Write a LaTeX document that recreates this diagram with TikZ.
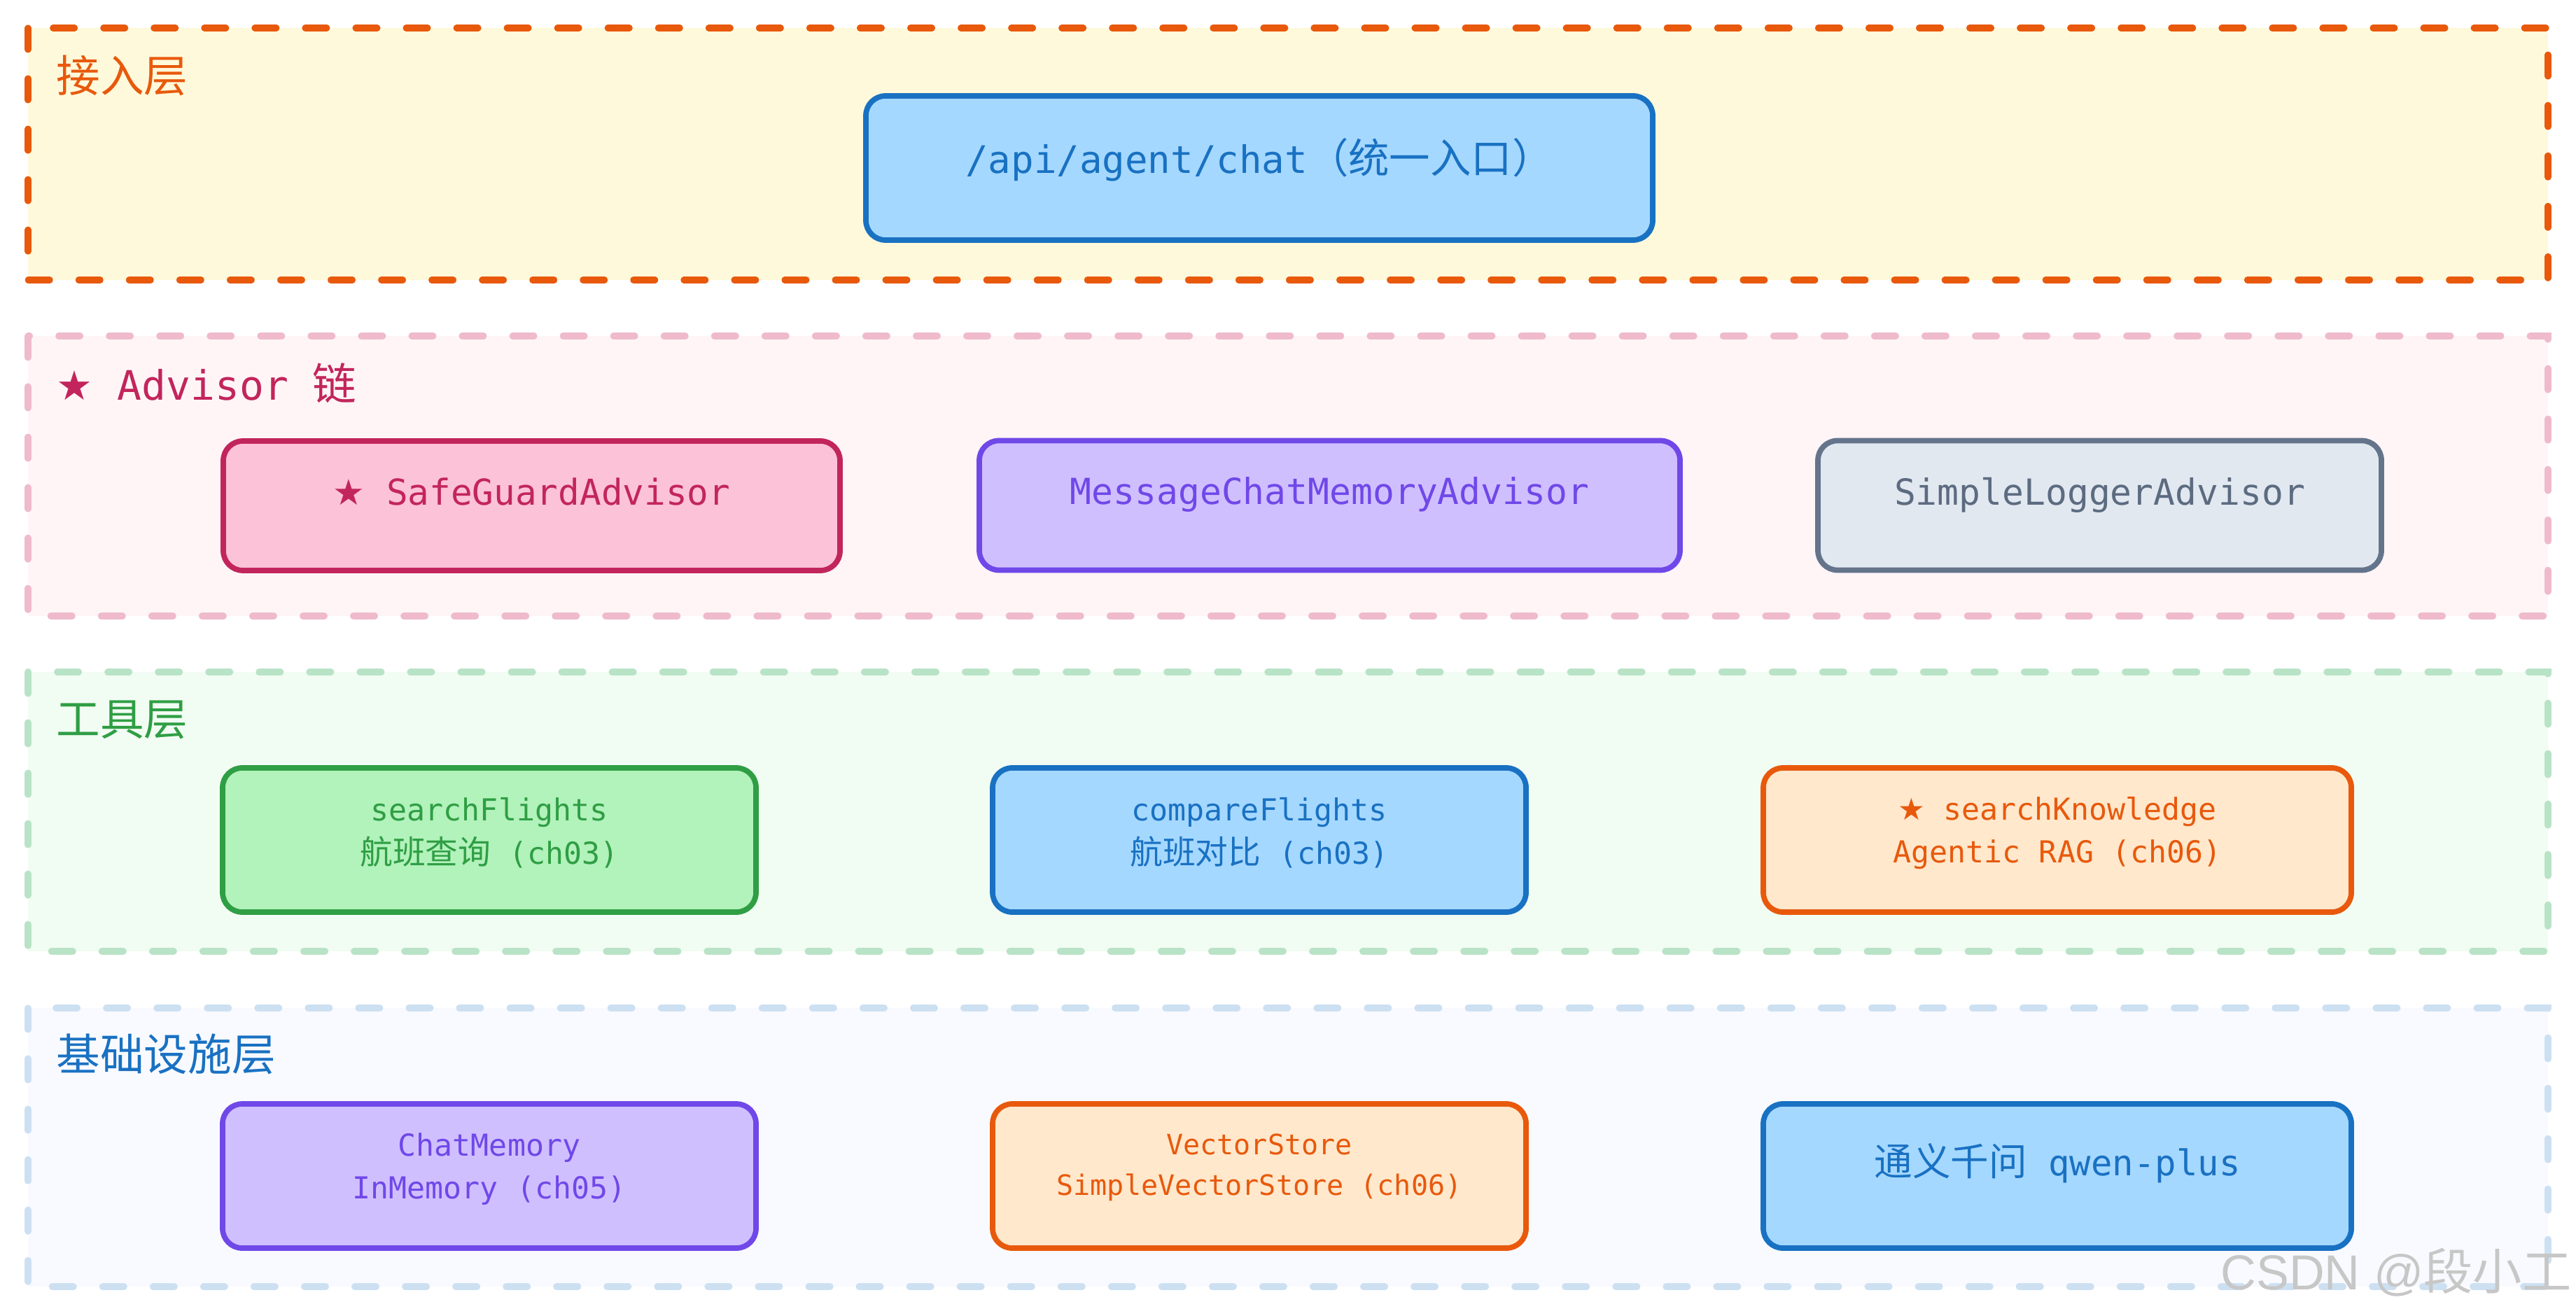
\documentclass[tikz,border=0pt]{standalone}
\usepackage{fontspec}
\setmonofont{DejaVu Sans Mono}
\newfontfamily\cjk[Scale=1.08]{Noto Sans CJK SC}
\newfontfamily\symf{DejaVu Sans}
\newfontfamily\wmfont{Liberation Sans}
\newfontfamily\wmcjk{Noto Sans CJK SC}
\newcommand{\zh}[1]{{\cjk #1}}
\newcommand{\starsym}{{\symf ★}}
\definecolor{corange}{HTML}{E8590C}
\definecolor{forange}{HTML}{FFE8CC}
\definecolor{cblue}{HTML}{1971C2}
\definecolor{fblue}{HTML}{A5D8FF}
\definecolor{cpink}{HTML}{C2255C}
\definecolor{fpink}{HTML}{FCC2D7}
\definecolor{cviolet}{HTML}{7048E8}
\definecolor{fviolet}{HTML}{D0BFFF}
\definecolor{cslate}{HTML}{64748B}
\definecolor{fslate}{HTML}{E2E8F0}
\definecolor{tslate}{HTML}{5C6B80}
\definecolor{cgreen}{HTML}{2F9E44}
\definecolor{fgreen}{HTML}{B2F2BB}
\definecolor{lfone}{HTML}{FFF9DB}
\definecolor{lftwo}{HTML}{FFF5F7}
\definecolor{lfthree}{HTML}{F1FCF3}
\definecolor{lffour}{HTML}{F8FAFF}
\definecolor{lstwo}{HTML}{EFBBCC}
\definecolor{lsthree}{HTML}{B9E3C6}
\definecolor{lsfour}{HTML}{CDE0F2}
\tikzset{
  layerbox/.style={line width=2.6pt, dash pattern=on 8.8pt off 11.7pt, line cap=round},
  layerlabel/.style={anchor=west, inner sep=0pt, font=\ttfamily\fontsize{16.5}{19}\selectfont},
  box/.style={rounded corners=0.28cm, line width=2.2pt, inner sep=0pt, minimum height=2.06cm},
  boxtxt/.style={inner sep=0pt, align=center, font=\ttfamily\fontsize{12.3}{17.5}\selectfont},
}
\begin{document}
\begin{tikzpicture}
\useasboundingbox (0,0) rectangle (36.8,-18.8);
\fill[white] (0,0) rectangle (36.8,-18.8);
% layers
\draw[layerbox, draw=corange, fill=lfone] (0.40,-0.40) rectangle (36.40,-4.00);
\draw[layerbox, draw=lstwo, fill=lftwo] (0.40,-4.80) rectangle (36.40,-8.80);
\draw[layerbox, draw=lsthree, fill=lfthree] (0.40,-9.60) rectangle (36.40,-13.59);
\draw[layerbox, draw=lsfour, fill=lffour] (0.40,-14.40) rectangle (36.40,-18.38);
% layer labels
\node[layerlabel, text=corange] (l1) at (0.80,-1.08) {\zh{接入层}};
\node[layerlabel, text=cpink] (l2) at (0.80,-5.47) {\starsym\ Advisor \zh{链}};
\node[layerlabel, text=cgreen] (l3) at (0.80,-10.28) {\zh{工具层}};
\node[layerlabel, text=cblue] (l4) at (0.80,-15.06) {\zh{基础设施层}};
% row 1
\node[box, draw=cblue, fill=fblue, minimum width=11.24cm] (api) at (17.99,-2.40) {};
\node[boxtxt, text=cblue, font=\ttfamily\fontsize{15.4}{18}\selectfont] (apit) at ([yshift=0.12cm]api.center) {/api/agent/chat\zh{（统一入口）}};
% row 2
\node[box, draw=cpink, fill=fpink, minimum width=8.81cm, minimum height=1.85cm] (safe) at (7.595,-7.225) {};
\node[boxtxt, text=cpink, font=\ttfamily\fontsize{14.5}{17}\selectfont] (safet) at ([yshift=0.2cm]safe.center) {\starsym\ SafeGuardAdvisor};
\node[box, draw=cviolet, fill=fviolet, minimum width=10.01cm, minimum height=1.85cm] (mcm) at (18.995,-7.22) {};
\node[boxtxt, text=cviolet, font=\ttfamily\fontsize{14.6}{17}\selectfont] (mcmt) at ([yshift=0.15cm]mcm.center) {MessageChatMemoryAdvisor};
\node[box, draw=cslate, fill=fslate, minimum width=8.05cm, minimum height=1.85cm] (sla) at (29.995,-7.22) {};
\node[boxtxt, text=tslate, font=\ttfamily\fontsize{14.6}{17}\selectfont] (slat) at ([yshift=0.15cm]sla.center) {SimpleLoggerAdvisor};
% row 3
\node[box, draw=cgreen, fill=fgreen, minimum width=7.62cm] (sf) at (6.99,-12.00) {};
\node[boxtxt, text=cgreen] (sft) at ([yshift=0.1cm]sf.center) {searchFlights\\\zh{航班查询} (ch03)};
\node[box, draw=cblue, fill=fblue, minimum width=7.62cm] (cf) at (17.99,-12.00) {};
\node[boxtxt, text=cblue] (cft) at ([yshift=0.1cm]cf.center) {compareFlights\\\zh{航班对比} (ch03)};
\node[box, draw=corange, fill=forange, minimum width=8.40cm] (sk) at (29.39,-12.00) {};
\node[boxtxt, text=corange] (skt) at ([yshift=0.1cm]sk.center) {\starsym\ searchKnowledge\\Agentic RAG (ch06)};
% row 4
\node[box, draw=cviolet, fill=fviolet, minimum width=7.62cm] (cm) at (6.99,-16.80) {};
\node[boxtxt, text=cviolet] (cmt) at ([yshift=0.1cm]cm.center) {ChatMemory\\InMemory (ch05)};
\node[box, draw=corange, fill=forange, minimum width=7.62cm] (vs) at (17.99,-16.80) {};
\node[boxtxt, text=corange, font=\ttfamily\fontsize{11.4}{16.5}\selectfont] (vst) at ([yshift=0.12cm]vs.center) {VectorStore\\SimpleVectorStore (ch06)};
\node[box, draw=cblue, fill=fblue, minimum width=8.40cm] (qw) at (29.39,-16.80) {};
\node[boxtxt, text=cblue, font=\ttfamily\fontsize{14.4}{17}\selectfont] (qwt) at ([yshift=0.18cm]qw.center) {\zh{通义千问} qwen-plus};
% watermark
\node[anchor=east, inner sep=0pt, text=black!22, font=\wmfont\fontsize{20}{24}\selectfont] (wm) at (36.74,-18.18) {CSDN @{\wmcjk 段小工}};
\end{tikzpicture}
\end{document}
